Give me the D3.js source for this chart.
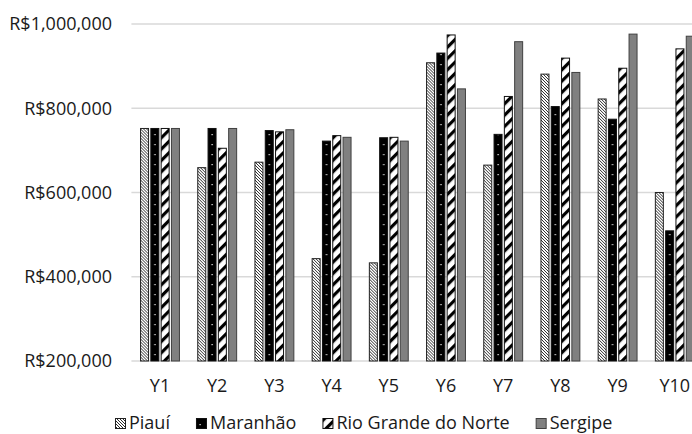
<!DOCTYPE html>
<html>
<head>
<meta charset="utf-8">
<script src="https://cdn.jsdelivr.net/npm/d3@7"></script>
<style>
  html, body { margin: 0; padding: 0; background: #fff; }
  svg { display: block; font-family: "Open Sans", sans-serif; }
</style>
</head>
<body>
<svg id="chart" width="692" height="434"></svg>
<script>
const categories = ["Y1","Y2","Y3","Y4","Y5","Y6","Y7","Y8","Y9","Y10"];
const seriesNames = ["Piauí","Maranhão","Rio Grande do Norte","Sergipe"];
const piaui     = [752000, 659000, 672000, 443000, 433000, 908000, 665000, 881000, 822000, 600000];
const maranhao  = [752000, 752000, 747000, 722000, 730000, 931000, 738000, 804000, 774000, 509000];
const rioGrande = [752000, 705000, 744000, 735000, 731000, 974000, 828000, 919000, 895000, 941000];
const sergipe   = [752000, 752000, 749000, 731000, 722000, 846000, 958000, 885000, 976000, 971000];
const tickValues = [200000, 400000, 600000, 800000, 1000000];

const seriesValues = [piaui, maranhao, rioGrande, sergipe];
const fills = ["url(#patPiaui)", "url(#patMaranhao)", "url(#patRio)", "#808080"];
const strokes = ["#222", "#111", "#111", "#404040"];

const svg = d3.select("#chart");
const defs = svg.append("defs");

// Piauí: thin dense "\" diagonal lines on white
const p1 = defs.append("pattern").attr("id","patPiaui").attr("patternUnits","userSpaceOnUse")
  .attr("width",3).attr("height",3);
p1.append("rect").attr("width",3).attr("height",3).attr("fill","#fff");
p1.append("path").attr("d","M-1,-1 L4,4 M-1,2 L1,4 M2,-1 L4,1").attr("stroke","#111").attr("stroke-width",0.9);

// Maranhão: black with small white dots
const p2 = defs.append("pattern").attr("id","patMaranhao").attr("patternUnits","userSpaceOnUse")
  .attr("width",8).attr("height",10);
p2.append("rect").attr("width",8).attr("height",10).attr("fill","#000");
p2.append("rect").attr("x",3.5).attr("y",4).attr("width",1.2).attr("height",1.2).attr("fill","#fff");

// Rio Grande do Norte: wide "/" black stripes on white
const p3 = defs.append("pattern").attr("id","patRio").attr("patternUnits","userSpaceOnUse")
  .attr("width",8).attr("height",8).attr("patternTransform","rotate(45)");
p3.append("rect").attr("width",8).attr("height",8).attr("fill","#fff");
p3.append("rect").attr("x",0).attr("y",0).attr("width",3.2).attr("height",8).attr("fill","#000");

const x = d3.scaleBand().domain(categories).range([131.4, 703.4]).paddingInner(0).paddingOuter(0);
const y = d3.scaleLinear().domain([200000, 1000000]).range([361, 24]);

const pitch = 10.3, barW = 8;

// gridlines
svg.append("g").selectAll("line").data(tickValues).join("line")
  .attr("x1", 131.4).attr("x2", 692)
  .attr("y1", d => y(d)).attr("y2", d => y(d))
  .attr("stroke", "#d9d9d9").attr("stroke-width", 1.3);

// y labels
const fmt = d => "R$" + d3.format(",")(d);
svg.append("g").selectAll("text").data(tickValues).join("text")
  .attr("x", 112).attr("y", d => y(d)).attr("dy", "0.35em")
  .attr("text-anchor", "end").attr("font-size", 18).attr("fill", "#1a1a1a")
  .text(fmt);

// bars
categories.forEach((c, ci) => {
  const cx = x(c) + x.bandwidth() / 2;
  seriesValues.forEach((vals, si) => {
    const bx = cx + (si - 1.5) * pitch - barW / 2;
    const g = svg.append("g").attr("transform", `translate(${bx},0)`);
    g.append("rect")
      .attr("x", 0).attr("width", barW)
      .attr("y", y(vals[ci])).attr("height", y(200000) - y(vals[ci]))
      .attr("fill", fills[si]).attr("stroke", strokes[si]).attr("stroke-width", 1);
  });
});

// x labels
svg.append("g").selectAll("text").data(categories).join("text")
  .attr("x", d => x(d) + x.bandwidth() / 2).attr("y", 392)
  .attr("text-anchor", "middle").attr("font-size", 18).attr("fill", "#1a1a1a")
  .text(d => d);

// legend
const lg = svg.append("g");
let lx = 115;
seriesNames.forEach((name, i) => {
  const g = lg.append("g").attr("transform", `translate(${lx},0)`);
  g.append("rect").attr("x", 0.5).attr("y", 418.5).attr("width", 10).attr("height", 10)
    .attr("fill", fills[i]).attr("stroke", strokes[i]).attr("stroke-width", 1);
  const t = g.append("text").attr("x", 14).attr("y", 429).attr("font-size", 18).attr("fill", "#1a1a1a").text(name);
  lx += 14 + t.node().getComputedTextLength() + 26;
});
</script>
</body>
</html>
